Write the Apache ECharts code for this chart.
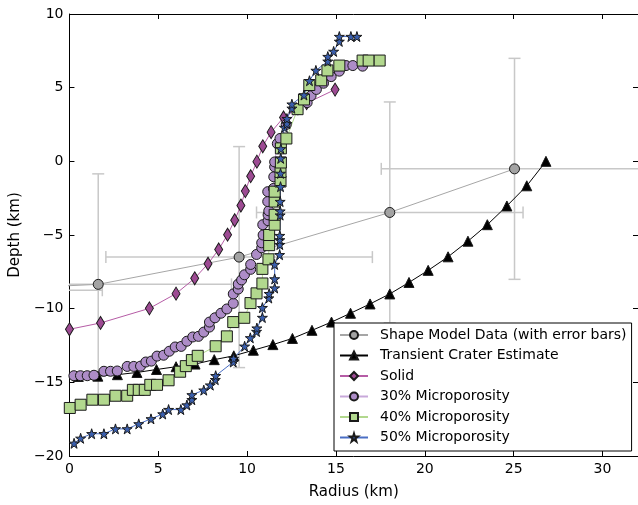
<!DOCTYPE html>
<html>
<head>
<meta charset="utf-8">
<script src="https://cdn.jsdelivr.net/npm/echarts@6/dist/echarts.min.js"></script>
<style>
  html, body { margin: 0; padding: 0; background: #fff; }
  #chart { width: 638px; height: 505px; }
</style>
</head>
<body>
<div id="chart"></div>
<script>
// shape model data, with error bars (first point lies left of the axis, only its bar shows)
var shapeR = [-5.65, 1.62, 9.55, 18.03, 25.05];
var shapeD = [-8.75, -8.35, -6.5, -3.47, -0.51];
var shapeErrR = [7.5, 7.5, 7.5, 7.5, 7.5];
var shapeErrD = [7.5, 7.5, 7.5, 7.5, 7.5];

// transient crater estimate
var craterR = [0.5, 1.6, 2.7, 3.8, 4.9, 6.0, 7.07, 8.15, 9.25, 10.35, 11.45, 12.55, 13.65, 14.75, 15.82, 16.92, 18.03, 19.11, 20.19, 21.31, 22.43, 23.52, 24.62, 25.74, 26.82];
var craterD = [-14.6, -14.58, -14.48, -14.33, -14.13, -13.94, -13.76, -13.46, -13.2, -12.82, -12.44, -12.02, -11.47, -10.91, -10.31, -9.68, -9.0, -8.22, -7.4, -6.48, -5.42, -4.3, -3.03, -1.66, 0.0];

// solid
var solidR = [0, 1.75, 4.5, 6.0, 7.05, 7.8, 8.4, 8.9, 9.3, 9.65, 9.9, 10.2, 10.55, 10.88, 11.35, 12.05, 13.35, 14.95];
var solidD = [-11.4, -10.97, -9.98, -8.98, -7.94, -6.95, -5.98, -4.98, -4.0, -3.0, -2.02, -1.01, -0.02, 1.02, 1.98, 2.98, 3.95, 4.87];

// 30% microporosity
var p30R = [0.25, 0.62, 1.0, 1.38, 1.94, 2.31, 2.69, 3.25, 3.62, 4.0, 4.3, 4.61, 4.93, 5.3, 5.62, 5.95, 6.29, 6.61, 6.94, 7.26, 7.56, 7.88, 7.88, 8.19, 8.53, 8.86, 9.22, 9.22, 9.5, 9.5, 9.69, 9.85, 10.2, 10.2, 10.53, 10.82, 10.82, 10.9, 10.88, 11.18, 11.18, 11.22, 11.16, 11.16, 11.48, 11.5, 11.55, 11.55, 11.7, 11.85, 12.2, 12.85, 13.38, 13.6, 13.9, 14.3, 14.73, 15.19, 15.57, 15.95, 16.5];
var p30D = [-14.55, -14.55, -14.55, -14.52, -14.25, -14.25, -14.23, -13.92, -13.92, -13.9, -13.62, -13.56, -13.22, -13.16, -12.89, -12.6, -12.56, -12.21, -11.92, -11.88, -11.59, -11.25, -10.91, -10.62, -10.31, -10.02, -9.64, -9.0, -8.67, -8.33, -8.05, -7.7, -7.33, -7.0, -6.32, -5.87, -5.53, -5.0, -4.3, -4.03, -3.63, -3.36, -2.73, -2.06, -1.84, -1.05, -0.38, -0.04, 1.2, 1.55, 2.5, 3.5, 3.99, 4.45, 4.88, 5.3, 5.75, 6.12, 6.5, 6.5, 6.46];

// 40% microporosity
var p40R = [0.02, 0.63, 1.29, 1.94, 2.59, 3.25, 3.57, 3.9, 4.24, 4.55, 4.93, 5.58, 6.23, 6.55, 6.89, 7.22, 8.23, 8.86, 9.22, 9.84, 10.19, 10.53, 10.86, 10.86, 11.2, 11.24, 11.24, 11.55, 11.55, 11.55, 11.55, 11.88, 11.88, 11.9, 11.9, 12.21, 12.84, 13.2, 13.5, 14.17, 14.52, 15.19, 16.5, 16.84, 17.46];
var p40D = [-16.74, -16.52, -16.18, -16.18, -15.91, -15.91, -15.51, -15.51, -15.51, -15.17, -15.17, -14.86, -14.28, -13.9, -13.49, -13.2, -12.55, -11.88, -10.91, -10.62, -9.62, -8.96, -8.29, -7.3, -6.65, -5.69, -5.0, -4.3, -3.63, -2.73, -2.06, -1.37, -0.72, -0.08, 0.88, 1.55, 3.54, 4.2, 5.18, 5.5, 6.17, 6.5, 6.84, 6.84, 6.84];

// 50% microporosity
var p50R = [0.26, 0.63, 1.25, 1.94, 2.59, 3.25, 3.9, 4.59, 5.25, 5.58, 6.27, 6.61, 6.89, 6.89, 7.56, 7.93, 8.21, 8.23, 9.22, 9.24, 9.86, 10.18, 10.53, 10.55, 10.86, 10.86, 11.22, 11.24, 11.55, 11.55, 11.55, 11.83, 11.84, 11.84, 11.84, 11.86, 11.86, 11.86, 11.88, 11.88, 11.89, 11.9, 12.1, 12.24, 12.24, 12.52, 12.52, 13.2, 13.51, 13.87, 14.54, 14.54, 14.87, 15.19, 15.19, 15.84, 16.18];
var p50D = [-19.14, -18.8, -18.49, -18.49, -18.16, -18.16, -17.82, -17.48, -17.15, -16.85, -16.85, -16.54, -16.18, -15.85, -15.53, -15.19, -14.82, -14.55, -13.62, -13.38, -12.55, -11.98, -11.55, -11.32, -10.6, -9.93, -9.28, -8.98, -8.6, -7.98, -7.0, -6.34, -5.65, -5.33, -5.04, -3.65, -3.38, -2.73, -1.72, -0.82, 0.2, 0.85, 2.3, 2.55, 2.9, 3.6, 3.88, 4.5, 5.47, 6.17, 6.79, 7.11, 7.46, 8.14, 8.47, 8.47, 8.47];

var xTicks = [0, 5, 10, 15, 20, 25, 30];
var yTicks = [-20, -15, -10, -5, 0, 5, 10];

var FONT = 'DejaVu Sans';
var EDGE = '#1a1a1a';
var STAR = 'path://M50,0 L61,35 L98,35 L68,57 L79,91 L50,70 L21,91 L32,57 L2,35 L39,35 Z';

function zip(a, b) {
  return a.map(function (v, i) { return [v, b[i]]; });
}

function minus(v) {
  return String(v).replace('-', '\u2212');
}

var chart = echarts.init(document.getElementById('chart'), null, { renderer: 'canvas' });

function axisX(pos, labels) {
  return {
    type: 'value', position: pos, min: 0, max: 32, interval: 5,
    axisLine: { show: true, onZero: false, lineStyle: { color: '#000', width: 1 } },
    axisTick: { show: true, inside: true, length: 5, lineStyle: { color: '#000' } },
    axisLabel: {
      show: labels, color: '#000', fontFamily: FONT, fontSize: 14, margin: 6,
      showMaxLabel: false,
      formatter: function (v) { return xTicks.indexOf(v) >= 0 ? minus(v) : ''; }
    },
    splitLine: { show: false },
    name: labels ? 'Radius (km)' : '', nameLocation: 'middle', nameGap: 29,
    nameTextStyle: { color: '#000', fontFamily: FONT, fontSize: 15 }
  };
}

function axisY(pos, labels) {
  return {
    type: 'value', position: pos, min: -20, max: 10, interval: 5,
    axisLine: { show: true, onZero: false, lineStyle: { color: '#000', width: 1 } },
    axisTick: { show: true, inside: true, length: 5, lineStyle: { color: '#000' } },
    axisLabel: {
      show: labels, color: '#000', fontFamily: FONT, fontSize: 14, margin: 6,
      formatter: function (v) { return yTicks.indexOf(v) >= 0 ? minus(v) : ''; }
    },
    splitLine: { show: false },
    name: labels ? 'Depth (km)' : '', nameLocation: 'middle', nameGap: 40,
    nameTextStyle: { color: '#000', fontFamily: FONT, fontSize: 15 }
  };
}

function lineSeries(name, data, symbol, size, fill, lineColor) {
  return {
    name: name, type: 'line', data: data,
    symbol: symbol, symbolSize: size, showAllSymbol: true,
    xAxisIndex: 0, yAxisIndex: 0, clip: true,
    itemStyle: { color: fill, borderColor: EDGE, borderWidth: 1 },
    lineStyle: { color: lineColor, width: 1 },
    emphasis: { disabled: true },
    animation: false
  };
}

var errData = shapeR.map(function (r, i) { return [r, shapeD[i], shapeErrR[i], shapeErrD[i]]; });

var option = {
  backgroundColor: '#fff',
  animation: false,
  grid: { left: 67, right: 0, top: 14, bottom: 45, containLabel: false },
  xAxis: [axisX('bottom', true), axisX('top', false)],
  yAxis: [axisY('left', true), axisY('right', false)],
  legend: {
    orient: 'vertical', left: 334, top: 323,
    data: ['Shape Model Data (with error bars)', 'Transient Crater Estimate', 'Solid',
           '30% Microporosity', '40% Microporosity', '50% Microporosity'],
    itemWidth: 28, itemHeight: 10, itemGap: 6.5,
    padding: [5, 5, 6.5, 5],
    backgroundColor: '#fff', borderColor: '#000', borderWidth: 1, borderRadius: 0,
    textStyle: { color: '#000', fontFamily: FONT, fontSize: 14, lineHeight: 14, padding: [0, 0, 0, 7] },
    selectedMode: false
  },
  series: [
    {
      name: 'errorbars', type: 'custom', data: errData, clip: true, z: 1,
      xAxisIndex: 0, yAxisIndex: 0, silent: true,
      renderItem: function (params, api) {
        var x = api.value(0), y = api.value(1), ex = api.value(2), ey = api.value(3);
        var l = api.coord([x - ex, y]), r = api.coord([x + ex, y]);
        var t = api.coord([x, y + ey]), b = api.coord([x, y - ey]);
        var c = 6;
        var st = { stroke: '#c8c8c8', lineWidth: 1.5 };
        return {
          type: 'group', children: [
            { type: 'line', shape: { x1: l[0], y1: l[1], x2: r[0], y2: r[1] }, style: st },
            { type: 'line', shape: { x1: l[0], y1: l[1] - c, x2: l[0], y2: l[1] + c }, style: st },
            { type: 'line', shape: { x1: r[0], y1: r[1] - c, x2: r[0], y2: r[1] + c }, style: st },
            { type: 'line', shape: { x1: t[0], y1: t[1], x2: b[0], y2: b[1] }, style: st },
            { type: 'line', shape: { x1: t[0] - c, y1: t[1], x2: t[0] + c, y2: t[1] }, style: st },
            { type: 'line', shape: { x1: b[0] - c, y1: b[1], x2: b[0] + c, y2: b[1] }, style: st }
          ]
        };
      }
    },
    lineSeries('Shape Model Data (with error bars)', zip(shapeR, shapeD), 'circle', 10, '#a3a3a3', '#a6a6a6'),
    lineSeries('Transient Crater Estimate', zip(craterR, craterD), 'triangle', 10, '#000', '#000'),
    lineSeries('Solid', zip(solidR, solidD), 'diamond', [8, 13], '#9d4a93', '#b65ca6'),
    lineSeries('30% Microporosity', zip(p30R, p30D), 'circle', 10, '#ad8cc7', '#c8a9da'),
    lineSeries('40% Microporosity', zip(p40R, p40D), 'rect', 11, '#b2d88e', '#b2d88e'),
    lineSeries('50% Microporosity', zip(p50R, p50D), STAR, 10, '#3a5fae', '#4a6ec4')
  ]
};

chart.setOption(option);
</script>
</body>
</html>
